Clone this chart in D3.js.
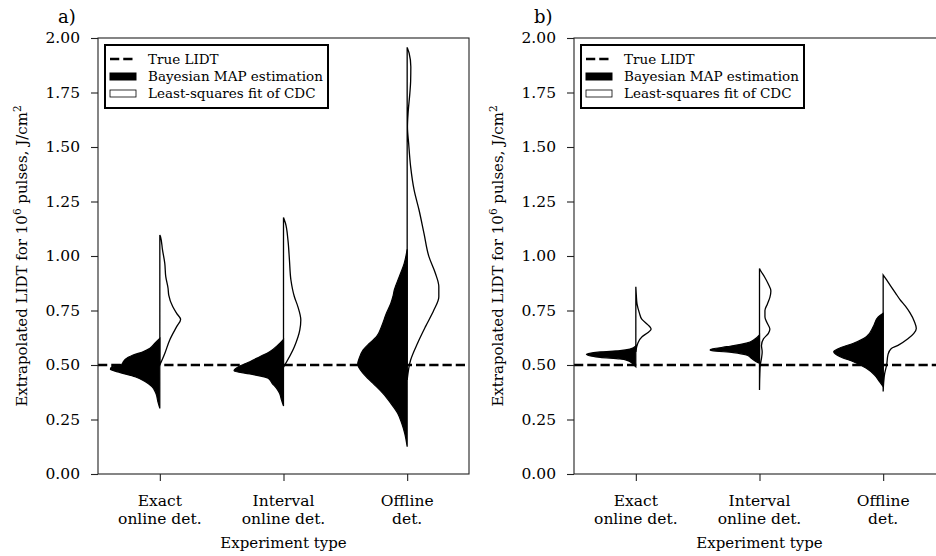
<!DOCTYPE html>
<html>
<head>
<meta charset="utf-8">
<script src="https://cdn.jsdelivr.net/npm/d3@7"></script>
<style>
  body { margin: 0; background: #fff; }
  text { font-family: "DejaVu Serif", serif; fill: #000; }
</style>
</head>
<body>
<svg id="chart" width="936" height="556"></svg>
<script>
// categories (two-line tick labels) and y ticks
const categories = [["Exact", "online det."], ["Interval", "online det."], ["Offline", "det."]];
const yTicks = [0, 0.25, 0.5, 0.75, 1.0, 1.25, 1.5, 1.75, 2.0];
const trueLIDT = 0.5;
const legendLabels = ["True LIDT", "Bayesian MAP estimation", "Least-squares fit of CDC"];

// half-violin profiles: [LIDT value, relative density]
// panel a
const aExactMAP = [[0.301,0],[0.332,0.04],[0.37,0.08],[0.401,0.16],[0.424,0.3],[0.446,0.5],[0.465,0.8],[0.48,1],[0.492,0.97],[0.505,0.76],[0.515,0.74],[0.535,0.64],[0.546,0.54],[0.561,0.34],[0.577,0.2],[0.6,0.1],[0.622,0]];
const aExactLSQ = [[0.50,0],[0.553,0.1],[0.615,0.2],[0.676,0.34],[0.709,0.42],[0.737,0.34],[0.768,0.26],[0.821,0.18],[0.852,0.166],[0.905,0.12],[0.966,0.1],[1.028,0.054],[1.089,0.014],[1.096,0]];
const aIntervalMAP = [[0.312,0],[0.339,0.04],[0.37,0.08],[0.393,0.14],[0.416,0.23],[0.439,0.31],[0.459,0.68],[0.474,1],[0.492,0.91],[0.515,0.68],[0.538,0.48],[0.561,0.28],[0.592,0.11],[0.618,0]];
const aIntervalLSQ = [[0.49,0],[0.584,0.22],[0.661,0.33],[0.706,0.35],[0.768,0.29],[0.813,0.22],[0.89,0.15],[0.982,0.12],[1.073,0.09],[1.15,0.04],[1.177,0]];
const aOfflineMAP = [[0.125,0],[0.187,0.05],[0.232,0.11],[0.278,0.19],[0.324,0.33],[0.37,0.49],[0.416,0.69],[0.462,0.89],[0.505,1],[0.531,0.97],[0.569,0.89],[0.6,0.76],[0.63,0.62],[0.676,0.52],[0.737,0.42],[0.783,0.33],[0.813,0.29],[0.844,0.26],[0.905,0.16],[0.966,0.06],[1.031,0]];
const aOfflineLSQ = [[0.431,0],[0.523,0.07],[0.6,0.21],[0.676,0.37],[0.752,0.54],[0.813,0.64],[0.859,0.64],[0.921,0.57],[0.997,0.44],[1.104,0.34],[1.211,0.24],[1.303,0.14],[1.41,0.07],[1.517,0.03],[1.593,0.006],[1.66,0.02],[1.746,0.054],[1.8,0.07],[1.868,0.074],[1.93,0.04],[1.957,0]];
// panel b
const bExactMAP = [[0.492,0],[0.505,0.06],[0.52,0.16],[0.528,0.32],[0.535,0.72],[0.546,0.98],[0.549,1],[0.552,0.96],[0.56,0.72],[0.566,0.32],[0.573,0.12],[0.587,0]];
const bExactLSQ = [[0.56,0],[0.6,0.04],[0.63,0.126],[0.648,0.24],[0.665,0.31],[0.685,0.24],[0.71,0.12],[0.737,0.074],[0.78,0.024],[0.82,0.01],[0.859,0]];
const bIntervalMAP = [[0.508,0],[0.515,0.066],[0.531,0.166],[0.546,0.266],[0.557,0.53],[0.566,0.96],[0.569,1],[0.574,0.94],[0.584,0.66],[0.6,0.266],[0.618,0.1],[0.638,0]];
const bIntervalLSQ = [[0.385,0],[0.45,0.006],[0.5,0.016],[0.53,0.04],[0.56,0.054],[0.59,0.04],[0.62,0.08],[0.645,0.18],[0.665,0.21],[0.69,0.16],[0.72,0.11],[0.75,0.11],[0.78,0.16],[0.81,0.21],[0.84,0.23],[0.87,0.18],[0.905,0.1],[0.93,0.03],[0.943,0]];
const bOfflineMAP = [[0.401,0],[0.424,0.074],[0.454,0.174],[0.485,0.34],[0.515,0.6],[0.538,0.87],[0.561,1],[0.576,0.9],[0.6,0.6],[0.63,0.34],[0.676,0.2],[0.72,0.1],[0.737,0]];
const bOfflineLSQ = [[0.378,0],[0.42,0.01],[0.46,0.03],[0.5,0.07],[0.55,0.1],[0.575,0.16],[0.59,0.3],[0.62,0.5],[0.645,0.62],[0.668,0.67],[0.7,0.63],[0.74,0.54],[0.77,0.45],[0.8,0.34],[0.83,0.25],[0.86,0.16],[0.89,0.07],[0.913,0]];

const panels = [
    { label: "a)", left: 98, map: [aExactMAP, aIntervalMAP, aOfflineMAP], lsq: [aExactLSQ, aIntervalLSQ, aOfflineLSQ] },
    { label: "b)", left: 574, map: [bExactMAP, bIntervalMAP, bOfflineMAP], lsq: [bExactLSQ, bIntervalLSQ, bOfflineLSQ] }
];

const svg = d3.select("#chart");
const plotW = 371, plotTop = 38, plotBottom = 474;

const yScale = d3.scaleLinear().domain([0, 2]).range([plotBottom, plotTop]);

panels.forEach(p => {
    const g = svg.append("g");
    const xScale = d3.scaleLinear().domain([-0.5, 2.5]).range([p.left, p.left + plotW]);
    const wScale = d3.scaleLinear().domain([0, 1]).range([0, xScale(0.4) - xScale(0)]);

    const halfArea = (i, side) => d3.area()
        .curve(d3.curveMonotoneY)
        .y(d => yScale(d[0]))
        .x0(xScale(i))
        .x1(d => xScale(i) + side * wScale(d[1]));

    // right halves: least-squares (white, outlined)
    p.lsq.forEach((prof, i) => {
        g.append("path")
            .attr("d", halfArea(i, 1)(prof))
            .attr("fill", "#fff")
            .attr("stroke", "#000")
            .attr("stroke-width", 1.3);
    });
    // left halves: Bayesian MAP (black)
    p.map.forEach((prof, i) => {
        g.append("path")
            .attr("d", halfArea(i, -1)(prof))
            .attr("fill", "#000")
            .attr("stroke", "#000")
            .attr("stroke-width", 1.2);
    });

    // true LIDT
    g.append("line")
        .attr("x1", p.left).attr("x2", p.left + plotW)
        .attr("y1", yScale(trueLIDT)).attr("y2", yScale(trueLIDT))
        .attr("stroke", "#000")
        .attr("stroke-width", 2.5)
        .attr("stroke-dasharray", "9.25,4");

    // frame
    g.append("rect")
        .attr("x", p.left).attr("y", plotTop)
        .attr("width", plotW).attr("height", plotBottom - plotTop)
        .attr("fill", "none")
        .attr("stroke", "#222")
        .attr("stroke-width", 1.1);

    // y axis
    const yAxis = g.append("g")
        .attr("transform", `translate(${p.left},0)`)
        .call(d3.axisLeft(yScale).tickValues(yTicks).tickFormat(d3.format(".2f")).tickSize(7).tickSizeOuter(0).tickPadding(11));
    yAxis.select(".domain").remove();
    yAxis.selectAll("line").attr("stroke", "#222").attr("stroke-width", 1.1);
    yAxis.selectAll("text").attr("font-family", "DejaVu Serif").attr("font-size", 15.5);

    // x axis
    const xAxis = g.append("g")
        .attr("transform", `translate(0,${plotBottom})`)
        .call(d3.axisBottom(xScale).tickValues([0, 1, 2]).tickFormat("").tickSize(7).tickSizeOuter(0));
    xAxis.select(".domain").remove();
    xAxis.selectAll("line").attr("stroke", "#222").attr("stroke-width", 1.1);
    categories.forEach((c, i) => {
        const t = g.append("text")
            .attr("x", xScale(i))
            .attr("y", plotBottom + 32)
            .attr("text-anchor", "middle")
            .attr("font-size", 15.5);
        c.forEach((line, k) => {
            t.append("tspan").attr("x", xScale(i)).attr("dy", k === 0 ? 0 : "1.15em").text(line);
        });
    });

    // axis labels
    g.append("text")
        .attr("x", p.left + plotW / 2)
        .attr("y", 548)
        .attr("text-anchor", "middle")
        .attr("font-size", 15)
        .text("Experiment type");

    const yl = g.append("text")
        .attr("transform", `translate(${p.left - 71},${(plotTop + plotBottom) / 2}) rotate(-90)`)
        .attr("text-anchor", "middle")
        .attr("font-size", 15);
    yl.append("tspan").text("Extrapolated LIDT for 10");
    yl.append("tspan").attr("font-size", 10.5).attr("dy", "-0.55em").text("6");
    yl.append("tspan").attr("dy", "0.38em").text(" pulses, J/cm");
    yl.append("tspan").attr("font-size", 10.5).attr("dy", "-0.55em").text("2");

    // panel letter
    g.append("text")
        .attr("x", p.left - 40)
        .attr("y", 23)
        .attr("font-size", 18)
        .text(p.label);

    // legend
    const lx = p.left + 7, ly = plotTop + 7;
    const lg = g.append("g");
    lg.append("rect")
        .attr("x", lx).attr("y", ly)
        .attr("width", 223).attr("height", 63)
        .attr("fill", "#fff")
        .attr("stroke", "#000")
        .attr("stroke-width", 2);
    const rows = [ly + 14, ly + 31.5, ly + 48.5];
    lg.append("line")
        .attr("x1", lx + 5).attr("x2", lx + 31)
        .attr("y1", rows[0]).attr("y2", rows[0])
        .attr("stroke", "#000").attr("stroke-width", 2.5)
        .attr("stroke-dasharray", "9.25,4");
    lg.append("rect")
        .attr("x", lx + 5).attr("y", rows[1] - 3.5)
        .attr("width", 26).attr("height", 7)
        .attr("fill", "#000").attr("stroke", "#000");
    lg.append("rect")
        .attr("x", lx + 5).attr("y", rows[2] - 3.5)
        .attr("width", 26).attr("height", 7)
        .attr("fill", "#fff").attr("stroke", "#000").attr("stroke-width", 0.8);
    legendLabels.forEach((s, k) => {
        lg.append("text")
            .attr("x", lx + 43)
            .attr("y", rows[k] + 4.6)
            .attr("font-size", 13.5)
            .text(s);
    });
});
</script>
</body>
</html>
